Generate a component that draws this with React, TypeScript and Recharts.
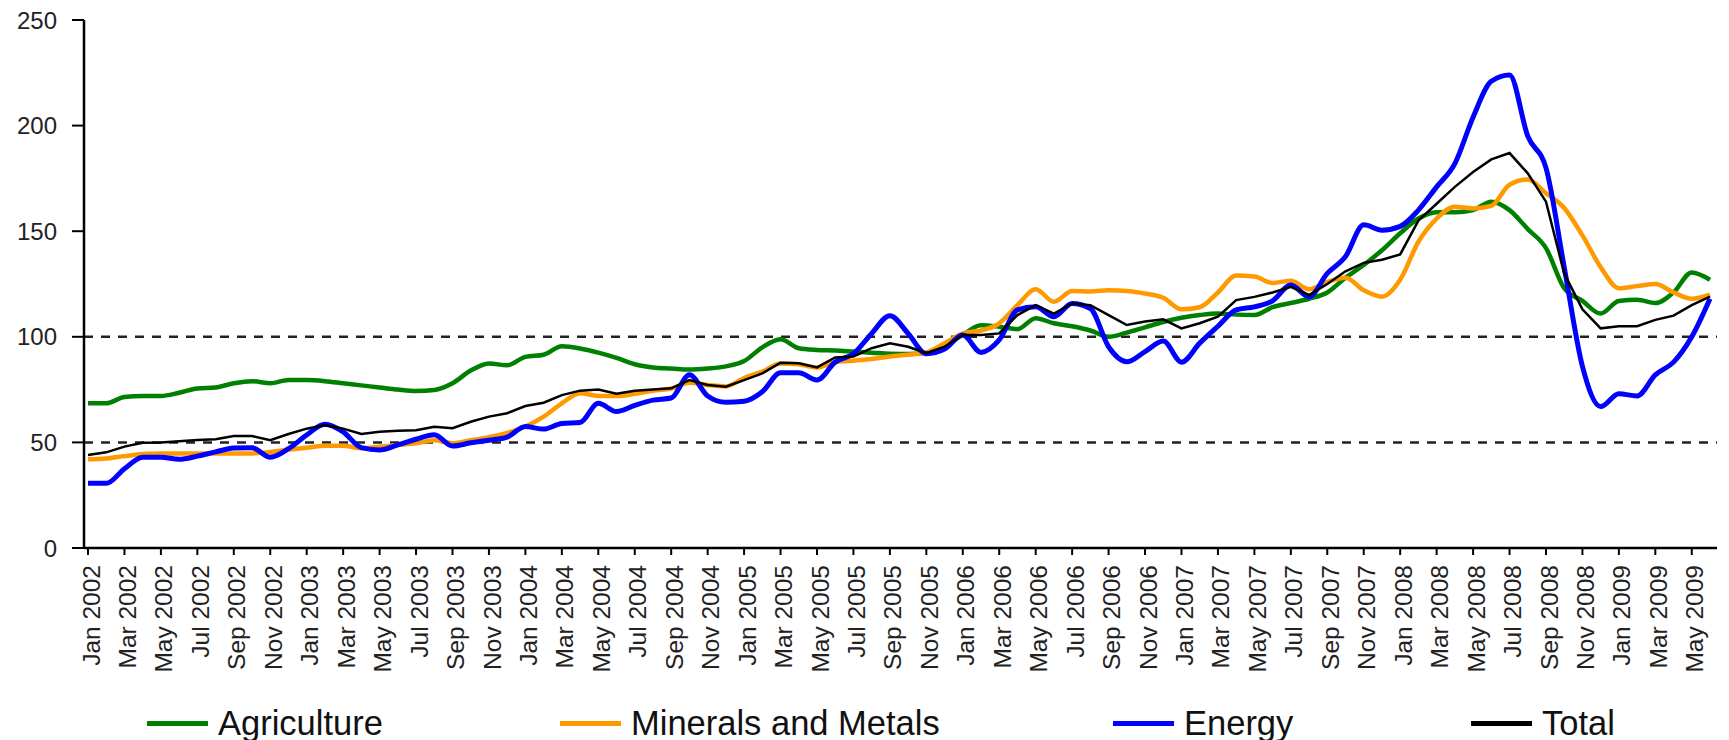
import React from 'react';
import { LineChart, Line, XAxis, YAxis, ReferenceLine, Legend } from 'recharts';

const monthNames = ['Jan', 'Feb', 'Mar', 'Apr', 'May', 'Jun', 'Jul', 'Aug', 'Sep', 'Oct', 'Nov', 'Dec'];
// Jan 2002 .. Jun 2009
const months = Array.from({ length: 90 }, (_, i) => `${monthNames[i % 12]} ${2002 + Math.floor(i / 12)}`);

const agriculture = [
  68.5, 68.5, 71.5, 72, 72, 73.5, 75.5, 76, 78, 79, 78, 79.5,
  79.5, 79, 78, 77, 76, 75, 74.3, 74.8, 78, 84, 87.4, 86.5,
  90.5, 91.5, 95.5, 94.5, 92.5, 90, 87, 85.5, 85, 84.5, 85, 86,
  88.5, 95, 98.8, 94.6, 93.8, 93.5, 93, 92.5, 92, 91.8, 92.5, 96,
  101, 105.5, 104.8, 103.6, 108.8, 106.4, 105, 103, 100, 102, 104.5, 107,
  109, 110.3, 111, 110.5, 110.3, 114, 116, 118, 121, 128, 134, 141,
  149, 156, 159, 159, 160, 164, 160, 151, 142, 123, 117, 111,
  117, 117.5, 116, 121, 130.5, 127,
];

const minerals = [
  42, 42.4, 43.5, 44.5, 44.8, 44.8, 44.8, 44.8, 44.8, 44.8, 45.5, 46.5,
  47.5, 48.4, 48.4, 47.2, 48, 48.8, 49.6, 51, 49.6, 51, 52.5, 54.5,
  57.5, 62.2, 68.5, 73.3, 72, 72, 73, 74.5, 75.5, 78.3, 77.2, 76.5,
  80.5, 83.5, 87.4, 87, 85.5, 88, 88.7, 89.5, 90.7, 91.5, 92.6, 96.9,
  101.6, 103, 106.4, 115, 122.5, 116.6, 121.7, 121.5, 122, 121.7, 120.5, 118.5,
  113, 114, 121, 129, 128.5, 125.5, 126.5, 122.5, 126, 128, 122, 119,
  127, 145, 156, 161.6, 160.8, 162, 172, 174.5, 168, 161, 148, 133,
  123, 124, 125, 121, 118, 120,
];

const energy = [
  30.6, 30.6, 37.5, 43, 43, 42, 43.5, 45.5, 47.3, 47.5, 43, 47,
  53.5, 58.6, 55, 47.5, 46.4, 48.8, 51.5, 53.6, 48.3, 49.8, 51, 52.5,
  57.5, 56.3, 59, 59.4, 68.5, 64.6, 67.5, 70, 71, 82, 72, 69,
  69.5, 74, 83, 83, 79.5, 88, 92, 101.6, 110, 101.6, 92, 94.2,
  100.8, 92.6, 98.5, 112.7, 114.2, 109.5, 115.8, 113.4, 95.3, 88.2, 93, 98,
  88, 97, 105, 112.7, 114.2, 117, 124.5, 119, 130, 138, 153, 150.5,
  152.3, 160, 171, 182, 204, 221, 224, 195, 180, 133, 86, 67,
  73, 72, 82, 88, 100, 118,
];

const total = [
  44, 45.3, 48, 49.8, 50, 50.5, 51.1, 51.5, 53, 53, 51, 54,
  56.5, 58.2, 56.5, 54, 55, 55.5, 55.8, 57.4, 56.7, 59.8, 62.2, 63.8,
  67.2, 68.8, 72.4, 74.5, 75, 73, 74.5, 75, 75.6, 79.5, 77.2, 76.4,
  79.5, 82.7, 87.7, 87.5, 85.5, 90.2, 90.7, 94.6, 96.9, 95.3, 92.2, 95.3,
  100.8, 100.8, 101.6, 110.3, 115, 111, 115.8, 115, 110.3, 105.6, 107.2, 108.3,
  104, 106.4, 109.5, 117.4, 118.9, 121, 123.7, 119.8, 125, 131, 135, 136.5,
  139, 155, 163, 171, 178, 184, 187, 177.4, 164, 130, 113, 104,
  105, 105, 108, 110, 115, 119,
];

const yTicks = [0, 50, 100, 150, 200, 250];

const data = months.map((month, i) => ({
  month,
  agriculture: agriculture[i],
  minerals: minerals[i],
  energy: energy[i],
  total: total[i],
}));

const FONT = '"Liberation Sans", Arial, sans-serif';

const series = [
  { key: 'agriculture', name: 'Agriculture', color: '#008000', width: 4.5, curve: 'monotone' },
  { key: 'minerals', name: 'Minerals and Metals', color: '#FF9900', width: 4.5, curve: 'monotone' },
  { key: 'energy', name: 'Energy', color: '#0000FF', width: 5, curve: 'monotone' },
  { key: 'total', name: 'Total', color: '#000000', width: 2.5, curve: 'linear' },
];

// left edge of each legend entry
const legendStarts = [147, 560, 1113, 1471];

function MonthTick(props: any) {
  const { x, y, payload } = props;
  return (
    <text
      x={x + 3}
      y={y}
      dy="0.35em"
      textAnchor="end"
      transform={`rotate(-90, ${x + 3}, ${y})`}
      fontSize={24.5}
      fontFamily={FONT}
      fill="#222"
    >
      {payload.value}
    </text>
  );
}

function renderLegend() {
  return (
    <div style={{ position: 'relative', height: 72, width: 1729 }}>
      {series.map((s, i) => (
        <div
          key={s.key}
          style={{
            position: 'absolute',
            left: legendStarts[i],
            top: 36,
            display: 'flex',
            alignItems: 'center',
            height: 38,
            whiteSpace: 'nowrap',
          }}
        >
          <span style={{ display: 'inline-block', width: 61, height: 5, background: s.color }} />
          <span style={{ marginLeft: 10, fontSize: 34.5, fontFamily: FONT, color: '#111', lineHeight: '38px' }}>
            {s.name}
          </span>
        </div>
      ))}
    </div>
  );
}

export default function App() {
  return (
    <div style={{ width: 1729, height: 740, background: '#fff' }}>
      <style>{'body { margin: 0; }'}</style>
      <LineChart width={1729} height={740} data={data} margin={{ top: 20, right: 12, left: 0, bottom: 0 }}>
        <XAxis
          dataKey="month"
          interval={1}
          padding={{ left: 4, right: 7 }}
          height={120}
          tickSize={7}
          tickMargin={10}
          axisLine={{ stroke: '#000', strokeWidth: 2.5 }}
          tickLine={{ stroke: '#000', strokeWidth: 2 }}
          tick={<MonthTick />}
        />
        <YAxis
          domain={[0, 250]}
          ticks={yTicks}
          width={84}
          tickSize={12}
          tickMargin={15}
          axisLine={{ stroke: '#000', strokeWidth: 2.5 }}
          tickLine={{ stroke: '#000', strokeWidth: 2 }}
          tick={{ fontSize: 24, fill: '#222', fontFamily: FONT }}
        />
        <ReferenceLine y={50} stroke="#222" strokeWidth={2.5} strokeDasharray="9 8" />
        <ReferenceLine y={100} stroke="#222" strokeWidth={2.5} strokeDasharray="9 8" />
        <Legend verticalAlign="bottom" height={72} content={renderLegend} />
        {series.map((s) => (
          <Line
            key={s.key}
            type={s.curve as any}
            dataKey={s.key}
            name={s.name}
            stroke={s.color}
            strokeWidth={s.width}
            dot={false}
            activeDot={false}
            isAnimationActive={false}
          />
        ))}
      </LineChart>
    </div>
  );
}
